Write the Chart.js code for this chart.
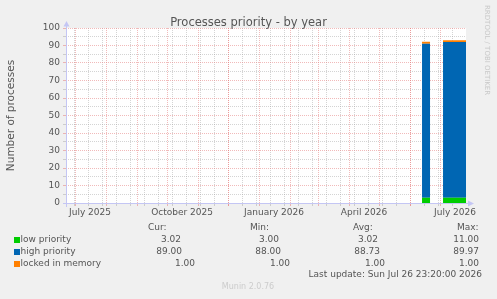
<!DOCTYPE html>
<html>
<head>
<meta charset="utf-8">
<title>Processes priority - by year</title>
<script src="https://cdn.jsdelivr.net/npm/chart.js@4.4.1/dist/chart.umd.min.js"></script>
<style>
  html, body { margin: 0; padding: 0; background: #F0F0F0; }
  #wrap { width: 497px; height: 299px; }
</style>
</head>
<body>
<div id="wrap"><canvas id="graficoPrioridade" width="497" height="299"></canvas></div>
<script>
// series, one value per stretch of recorded data
var seriesNames = ['low priority', 'high priority', 'locked in memory'];
var seriesColors = ['#00CC00', '#0066B3', '#FF8000'];
var segFrom = ['2026-06-13T00:00', '2026-07-04T00:00'];
var segTo = ['2026-06-21T00:00', '2026-07-26T23:20'];
var lowPriority = [3.0, 3.0];
var highPriority = [88.0, 89.0];
var lockedMemory = [1.2, 1.0];

// legend statistics
var curStats = ['3.02', '89.00', '1.00'];
var minStats = ['3.00', '88.00', '1.00'];
var avgStats = ['3.02', '88.73', '1.00'];
var maxStats = ['11.00', '89.97', '1.00'];

// axis
var xLabelMonths = ['2025-07', '2025-10', '2026-01', '2026-04', '2026-07'];
var xLabelTexts = ['July 2025', 'October 2025', 'January 2026', 'April 2026', 'July 2026'];
var yMin = 0, yMax = 100, yStep = 5;

var DAY = 86400000;
var END = Date.parse('2026-07-26T23:20Z');
var START = END - 400 * DAY;

function dia(s) {
	return (Date.parse(s + 'Z') - START) / DAY;
}

var monthLines = [];
for (var d = new Date(Date.UTC(2025, 6, 1)); d.getTime() < END; d.setUTCMonth(d.getUTCMonth() + 1)) {
	monthLines.push((d.getTime() - START) / DAY);
}
var weekLines = [];
for (var w = Date.parse('2025-06-30T00:00Z'); w < END; w += 14 * DAY) {
	weekLines.push((w - START) / DAY);
}
var labelPos = xLabelMonths.map(function(m) { return dia(m + '-16T00:00'); });

function montaSerie(bases, valores) {
	var pts = [];
	for (var i = 0; i < segFrom.length; i++) {
		var a = dia(segFrom[i]), b = dia(segTo[i]);
		var base = bases ? bases[i] : 0;
		var v = base + valores[i];
		pts.push({x: a, y: 0}, {x: a, y: v}, {x: b, y: v}, {x: b, y: 0});
	}
	return pts;
}

var acumBaixa = lowPriority.slice();
var acumAlta = lowPriority.map(function(v, i) { return v + highPriority[i]; });

var MAJOR = 'rgba(230, 130, 130, 0.55)';
var MINOR = 'rgba(160, 160, 160, 0.45)';
var AXIS = '#c4c6f4';
var TEXT = '#555555';
var FONT = '"DejaVu Sans", sans-serif';

var fundo = {
	id: 'fundo',
	beforeDraw: function(chart) {
		var ctx = chart.ctx, a = chart.chartArea;
		ctx.save();
		ctx.fillStyle = '#F0F0F0';
		ctx.fillRect(0, 0, chart.width, chart.height);
		ctx.fillStyle = '#FFFFFF';
		ctx.fillRect(a.left, a.top, a.right - a.left, a.bottom - a.top);
		ctx.restore();
	}
};

var textos = {
	id: 'textos',
	afterDraw: function(chart) {
		var ctx = chart.ctx, a = chart.chartArea;
		var xl = a.left + 0.5, yb = a.bottom + 0.5;
		ctx.save();

		// axes with arrows
		ctx.strokeStyle = AXIS;
		ctx.fillStyle = AXIS;
		ctx.lineWidth = 1;
		ctx.beginPath();
		ctx.moveTo(xl, a.top - 4);
		ctx.lineTo(xl, a.bottom + 4);
		ctx.moveTo(a.left - 3, yb);
		ctx.lineTo(a.right + 3, yb);
		ctx.stroke();
		ctx.beginPath();
		ctx.moveTo(xl - 3, a.top - 1.5);
		ctx.lineTo(xl + 3, a.top - 1.5);
		ctx.lineTo(xl, a.top - 7);
		ctx.closePath();
		ctx.fill();
		ctx.beginPath();
		ctx.moveTo(a.right + 2, yb - 3);
		ctx.lineTo(a.right + 2, yb + 3);
		ctx.lineTo(a.right + 8, yb);
		ctx.closePath();
		ctx.fill();

		// title
		ctx.fillStyle = TEXT;
		ctx.textBaseline = 'alphabetic';
		ctx.textAlign = 'center';
		ctx.font = '11.5px ' + FONT;
		ctx.fillText('Processes priority - by year', chart.width / 2, 26);

		// vertical titles
		ctx.save();
		ctx.translate(11, (a.top + a.bottom) / 2);
		ctx.rotate(-Math.PI / 2);
		ctx.textBaseline = 'middle';
		ctx.font = '10.5px ' + FONT;
		ctx.fillText('Number of processes', 0, 0);
		ctx.restore();

		ctx.save();
		ctx.translate(487, 5);
		ctx.rotate(Math.PI / 2);
		ctx.textAlign = 'left';
		ctx.textBaseline = 'middle';
		ctx.fillStyle = '#c8c8c8';
		ctx.font = '7px ' + FONT;
		ctx.fillText('RRDTOOL / TOBI OETIKER', 0, 0);
		ctx.restore();

		// legend
		ctx.font = '9px ' + FONT;
		ctx.textBaseline = 'middle';
		ctx.textAlign = 'left';
		ctx.fillStyle = TEXT;
		var cab = [['Cur:', 148], ['Min:', 250], ['Avg:', 353], ['Max:', 457]];
		cab.forEach(function(c) { ctx.fillText(c[0], c[1], 227.5); });

		var linhas = [239.5, 251.5, 263.5];
		var colunas = [[181, 279, 378, 479], [182, 281, 380, 479], [195, 290, 385, 479]];
		for (var i = 0; i < seriesNames.length; i++) {
			var y = linhas[i];
			ctx.fillStyle = seriesColors[i];
			ctx.fillRect(14, y - 2.5, 6, 6);
			ctx.fillStyle = TEXT;
			ctx.textAlign = 'left';
			ctx.fillText(seriesNames[i], 20.5, y);
			ctx.textAlign = 'right';
			var vals = [curStats[i], minStats[i], avgStats[i], maxStats[i]];
			for (var j = 0; j < vals.length; j++) {
				ctx.fillText(vals[j], colunas[i][j], y);
			}
		}
		ctx.textAlign = 'right';
		ctx.fillText('Last update: Sun Jul 26 23:20:00 2026', 482, 275);

		ctx.textAlign = 'center';
		ctx.fillStyle = '#cccccc';
		ctx.font = '8px ' + FONT;
		ctx.fillText('Munin 2.0.76', 248, 286.5);

		ctx.restore();
	}
};

var grafico = new Chart(document.getElementById('graficoPrioridade').getContext('2d'), {
	type: 'line',
	data: {
		datasets: [{
			label: seriesNames[0],
			data: montaSerie(null, lowPriority),
			backgroundColor: seriesColors[0],
			fill: 'origin'
		}, {
			label: seriesNames[1],
			data: montaSerie(acumBaixa, highPriority),
			backgroundColor: seriesColors[1],
			fill: '-1'
		}, {
			label: seriesNames[2],
			data: montaSerie(acumAlta, lockedMemory),
			backgroundColor: seriesColors[2],
			fill: '-1'
		}]
	},
	options: {
		responsive: false,
		animation: false,
		devicePixelRatio: 1,
		layout: { padding: { top: 28, right: 31, left: 0, bottom: 0 } },
		elements: {
			line: { borderWidth: 0, tension: 0 },
			point: { radius: 0, hoverRadius: 0 }
		},
		plugins: {
			legend: { display: false },
			title: { display: false },
			tooltip: { enabled: false }
		},
		events: [],
		scales: {
			x: {
				type: 'linear',
				min: 0,
				max: 400,
				weight: 0,
				afterBuildTicks: function(s) {
					var v = weekLines.concat(monthLines).sort(function(p, q) { return p - q; });
					s.ticks = v.map(function(t) { return {value: t}; });
				},
				afterFit: function(s) { s.height = 3; },
				ticks: { display: false, autoSkip: false },
				border: { display: false, dash: [1, 1] },
				grid: {
					color: function(c) { return monthLines.indexOf(c.tick.value) >= 0 ? MAJOR : MINOR; },
					tickLength: 3,
					drawTicks: true
				}
			},
			x2: {
				type: 'linear',
				position: 'bottom',
				min: 0,
				max: 400,
				weight: 1,
				afterBuildTicks: function(s) {
					s.ticks = labelPos.map(function(t) { return {value: t}; });
				},
				afterFit: function(s) { s.height = 93; },
				ticks: {
					autoSkip: false,
					maxRotation: 0,
					padding: 1,
					color: TEXT,
					font: { family: 'DejaVu Sans', size: 9 },
					callback: function(v, i) { return xLabelTexts[i]; }
				},
				border: { display: false },
				grid: { display: false, drawTicks: false }
			},
			y: {
				type: 'linear',
				min: yMin,
				max: yMax,
				afterFit: function(s) { s.width = 66; },
				ticks: {
					stepSize: yStep,
					autoSkip: false,
					padding: 3,
					color: TEXT,
					font: { family: 'DejaVu Sans', size: 9 },
					callback: function(v) { return v % 10 === 0 ? String(v) : ''; }
				},
				border: { display: false, dash: [1, 1] },
				grid: {
					color: function(c) { return c.tick.value % 10 === 0 ? MAJOR : MINOR; },
					tickLength: 3,
					drawTicks: true
				}
			}
		}
	},
	plugins: [fundo, textos]
});
</script>
</body>
</html>
